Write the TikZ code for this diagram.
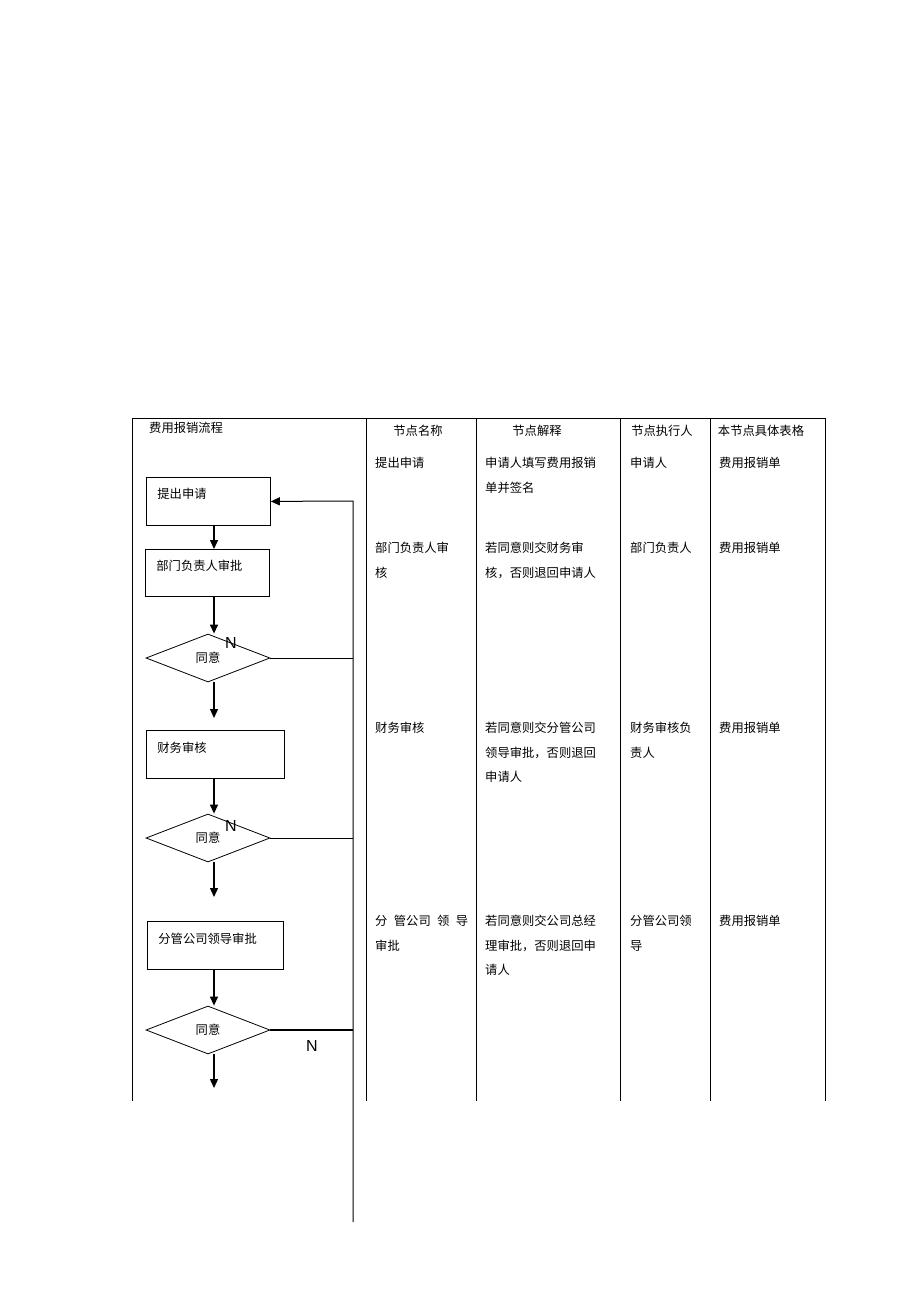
\documentclass[tikz,border=0pt]{standalone}
\usepackage{fontspec}
\setmainfont{Liberation Sans}
\newfontfamily\cjkfont{Noto Sans CJK SC}
\usetikzlibrary{shapes.geometric,arrows.meta}

\begin{document}
\begin{tikzpicture}[x=1pt, y=-1pt, font=\cjkfont\fontsize{12.3}{24.5}\selectfont]
    \tikzstyle{stepbox} = [rectangle, draw, line width=0.8pt, inner xsep=11pt, inner ysep=0pt,
        text height=20.6pt, text depth=27.4pt, align=left, anchor=north west]
    \tikzstyle{check} = [diamond, draw, line width=0.8pt, minimum width=124pt,
        minimum height=48pt, aspect=2.58, inner sep=0pt]
    \tikzstyle{arrow} = [line width=1.3pt, -{Triangle[length=9pt,width=8pt]}]
    \tikzstyle{cell} = [anchor=north west, align=left, inner sep=0pt]
    \tikzstyle{head} = [inner sep=0pt]
    \tikzstyle{nmark} = [font=\rmfamily\fontsize{16}{16}\selectfont, inner sep=0pt]

    \useasboundingbox (0,0) rectangle (920,1303);

    % table frame
    \draw [line width=0.7pt] (132,418) -- (825,418);
    \foreach \x in {132,366,476,620,710,825}
        \draw [line width=0.7pt] (\x,418) -- (\x,1101);

    % headers
    \node [head, anchor=west] (title) at (149,428) {费用报销流程};
    \node [head] (h-name) at (418,431) {节点名称};
    \node [head] (h-desc) at (537,431) {节点解释};
    \node [head] (h-exec) at (662,431) {节点执行人};
    \node [head] (h-form) at (761,431) {本节点具体表格};

    % flow
    \node [stepbox, text width=102pt] (apply) at (146,477) {提出申请};
    \node [stepbox, text width=102pt, text depth=26.4pt] (dept) at (145,549) {部门负责人审批};
    \node [check] (d1) at (208,658) {同意};
    \node [stepbox, text width=116pt, text height=21.6pt, text depth=26.4pt] (fin) at (146,730) {财务审核};
    \node [check] (d2) at (208,838) {同意};
    \node [stepbox, text width=114pt, text height=21.6pt, text depth=26.4pt] (lead) at (147,921) {分管公司领导审批};
    \node [check] (d3) at (208,1030) {同意};

    \node [nmark] (n1) at (231,643) {N};
    \node [nmark] (n2) at (231,826) {N};
    \node [nmark] (n3) at (312,1046) {N};

    \coordinate (ax) at (214,0);
    \coordinate (out1) at (214,718);
    \coordinate (out2) at (214,897);
    \coordinate (out3) at (214,1088);
    \coordinate (rtop) at (353,501);
    \coordinate (rbot) at (353,1222);

    \draw [arrow] (apply.south -| ax) -- (dept.north -| ax);
    \draw [arrow] (dept.south -| ax) -- (d1.north -| ax);
    \draw [arrow] (d1.south -| ax) -- (out1);
    \draw [arrow] (fin.south -| ax) -- (d2.north -| ax);
    \draw [arrow] (d2.south -| ax) -- (out2);
    \draw [arrow] (lead.south -| ax) -- (d3.north -| ax);
    \draw [arrow] (d3.south -| ax) -- (out3);

    % return path
    \draw [arrow, line width=1pt] (rbot) -- (rtop) -- (apply.east);
    \draw [line width=0.8pt] (d1.east) -- (d1.east -| rtop);
    \draw [line width=0.8pt] (d2.east) -- (d2.east -| rtop);
    \draw [line width=1.6pt] (d3.east) -- (d3.east -| rtop);

    % rows
    \node [cell] (r1-name) at (375,457) {提出申请};
    \node [cell] (r1-desc) at (485,457) {申请人填写费用报销\\单并签名};
    \node [cell] (r1-exec) at (630,457) {申请人};
    \node [cell] (r1-form) at (719,457) {费用报销单};

    \node [cell] (r2-name) at (375,542) {部门负责人审\\核};
    \node [cell] (r2-desc) at (485,542) {若同意则交财务审\\核，否则退回申请人};
    \node [cell] (r2-exec) at (630,542) {部门负责人};
    \node [cell] (r2-form) at (719,542) {费用报销单};

    \node [cell] (r3-name) at (375,722) {财务审核};
    \node [cell] (r3-desc) at (485,722) {若同意则交分管公司\\领导审批，否则退回\\申请人};
    \node [cell] (r3-exec) at (630,722) {财务审核负\\责人};
    \node [cell] (r3-form) at (719,722) {费用报销单};

    \node [cell] (r4-name) at (375,915) {\makebox[93pt][s]{分\hfil 管公司\hfil 领\hfil 导}\\审批};
    \node [cell] (r4-desc) at (485,915) {若同意则交公司总经\\理审批，否则退回申\\请人};
    \node [cell] (r4-exec) at (630,915) {分管公司领\\导};
    \node [cell] (r4-form) at (719,915) {费用报销单};
\end{tikzpicture}
\end{document}
